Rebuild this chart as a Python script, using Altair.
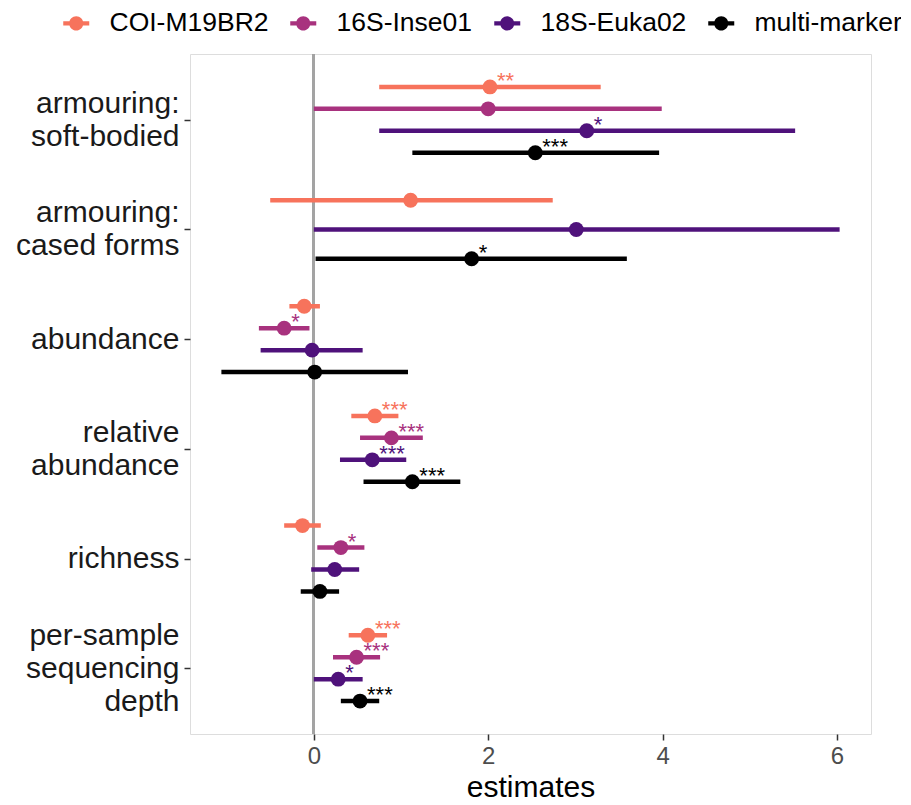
import altair as alt
import pandas as pd

# ---- data ----
categories = ["armouring: soft-bodied", "armouring: cased forms", "abundance",
              "relative abundance", "richness", "per-sample sequencing depth"]
category_labels = ["armouring:|soft-bodied", "armouring:|cased forms", "abundance",
                   "relative|abundance", "richness", "per-sample|sequencing|depth"]
markers = ["COI-M19BR2", "16S-Inse01", "18S-Euka02", "multi-marker"]
colors = ["#F7735C", "#A8327E", "#4F127B", "#000000"]

row_category = (["armouring: soft-bodied"] * 4 + ["armouring: cased forms"] * 3 +
                ["abundance"] * 4 + ["relative abundance"] * 4 +
                ["richness"] * 4 + ["per-sample sequencing depth"] * 4)
row_marker = (markers + ["COI-M19BR2", "18S-Euka02", "multi-marker"] + markers * 4)
estimate = [2.02, 2.00, 3.13, 2.54,
            1.11, 3.01, 1.81,
            -0.11, -0.34, -0.02, 0.01,
            0.70, 0.89, 0.67, 1.13,
            -0.13, 0.31, 0.24, 0.07,
            0.62, 0.49, 0.28, 0.53]
lower = [0.75, 0.00, 0.75, 1.13,
         -0.50, 0.00, 0.02,
         -0.28, -0.63, -0.61, -1.06,
         0.43, 0.53, 0.30, 0.57,
         -0.34, 0.04, -0.03, -0.15,
         0.40, 0.22, 0.00, 0.31]
upper = [3.29, 3.99, 5.52, 3.96,
         2.74, 6.03, 3.59,
         0.07, -0.05, 0.56, 1.08,
         0.97, 1.25, 1.06, 1.68,
         0.08, 0.58, 0.52, 0.29,
         0.84, 0.76, 0.56, 0.75]
stars = ["**", "", "*", "***",
         "", "", "*",
         "", "*", "", "",
         "***", "***", "***", "***",
         "", "*", "", "",
         "***", "***", "*", "***"]

df = pd.DataFrame({"category": row_category, "marker": row_marker,
                   "estimate": estimate, "lower": lower, "upper": upper,
                   "stars": stars})

cats_js = "[" + ",".join("'" + c + "'" for c in categories) + "]"
marks_js = "[" + ",".join("'" + m + "'" for m in markers) + "]"
labels_js = "[''," + ",".join("'" + l + "'" for l in category_labels) + "]"
label_expr = "split(" + labels_js + "[datum.value], '|')"

FONT = "Liberation Sans"
LINE_H = 33

# shift multi-line labels so that the block is centred on its tick
offset_conditions = []
for i, lab in enumerate(category_labels, start=1):
    nlines = len(lab.split("|"))
    offset_conditions.append({"test": f"datum.value == {i}",
                              "value": -(nlines - 1) * LINE_H / 2})

base = alt.Chart(df).transform_calculate(
    ci=f"indexof({cats_js}, datum.category) + 1",
    mi=f"indexof({marks_js}, datum.marker)",
).transform_joinaggregate(
    n="count()", groupby=["category"]
).transform_window(
    rk="row_number()", sort=[alt.SortField("mi")], groupby=["category"]
).transform_calculate(
    pos="datum.ci + (datum.rk - (datum.n + 1) / 2) * 0.8 / datum.n"
)

xscale = alt.Scale(domain=[-1.42, 6.39], nice=False, zero=False)
yscale = alt.Scale(domain=[0.4, 6.6], reverse=True, nice=False, zero=False)
cscale = alt.Scale(domain=markers, range=colors)

xaxis = alt.Axis(values=[0, 2, 4, 6], format="d", grid=False, domain=False,
                 tickColor="#333333", tickSize=6, tickWidth=1.5,
                 labelFontSize=24, labelColor="#4D4D4D", labelFont=FONT,
                 labelPadding=4, title="estimates", titleFontSize=30,
                 titleFont=FONT, titleFontWeight="normal", titleColor="#000000",
                 titlePadding=4)
yaxis = alt.Axis(values=[1, 2, 3, 4, 5, 6], labelExpr=label_expr, grid=False,
                 domain=False, tickColor="#333333", tickSize=6, tickWidth=1.5,
                 labelFontSize=30, labelColor="#1A1A1A", labelFont=FONT,
                 labelLineHeight=LINE_H, labelPadding=5, title=None,
                 labelOffset={"condition": offset_conditions, "value": 0})

legend_symbol = ("M-1,-0.17L1,-0.17L1,0.17L-1,0.17Z "
                 "M0.54,0A0.54,0.54,0,1,1,-0.54,0A0.54,0.54,0,1,1,0.54,0Z")
legend = alt.Legend(
    title=None, orient="none", direction="horizontal",
    legendX=-127, legendY=-44, symbolType=legend_symbol, symbolSize=676,
    symbolStrokeWidth=0, labelFontSize=26.5, labelFont=FONT, labelLimit=400,
    labelColor="#000000", labelOffset=20, columnPadding=21, padding=0,
)
color = alt.Color("marker:N", scale=cscale, legend=legend)

zero_rule = alt.Chart(df).mark_rule(color="#A3A3A3", strokeWidth=2).encode(
    x=alt.datum(0, scale=xscale, axis=xaxis)
)

bars = base.mark_rule(strokeWidth=4.5).encode(
    x=alt.X("lower:Q", scale=xscale, axis=xaxis),
    x2="upper:Q",
    y=alt.Y("pos:Q", scale=yscale, axis=yaxis),
    color=color,
)

points = base.mark_circle(size=220, opacity=1).encode(
    x=alt.X("estimate:Q", scale=xscale, axis=xaxis),
    y=alt.Y("pos:Q", scale=yscale, axis=yaxis),
    color=color,
)

text = base.mark_text(align="left", baseline="middle", dx=7, dy=-6,
                      fontSize=22, font=FONT).encode(
    x=alt.X("estimate:Q", scale=xscale, axis=xaxis),
    y=alt.Y("pos:Q", scale=yscale, axis=yaxis),
    text="stars:N",
    color=color,
)

chart = alt.layer(zero_rule, bars, points, text).properties(
    width=681, height=680,
    autosize=alt.AutoSizeParams(type="none"),
    padding={"left": 182, "top": 46, "right": 30, "bottom": 70},
).configure_view(fill="#EBEBEB", stroke=None).configure(background="#FFFFFF")

chart.save("out.html", embed_options={"renderer": "svg", "actions": False})
